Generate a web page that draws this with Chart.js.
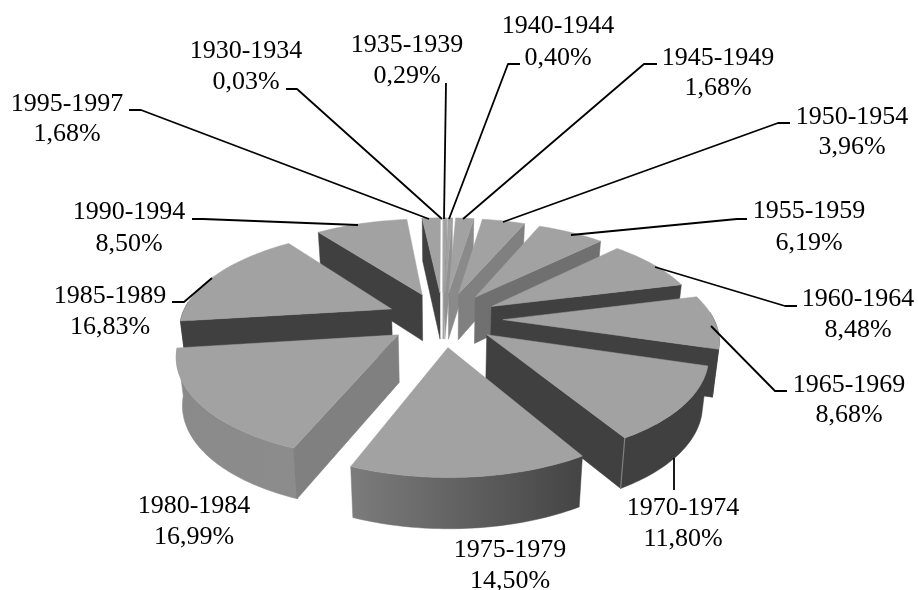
<!DOCTYPE html>
<html><head><meta charset="utf-8">
<style>html,body{margin:0;padding:0;background:#fff}canvas{display:block}</style>
<script src="https://cdn.jsdelivr.net/npm/chart.js@4"></script>
</head><body><canvas id="c" width="918" height="590"></canvas>
<script>
const periods = ['1930-1934','1935-1939','1940-1944','1945-1949','1950-1954','1955-1959','1960-1964','1965-1969','1970-1974','1975-1979','1980-1984','1985-1989','1990-1994','1995-1997'];
const shares = [0.03,0.29,0.40,1.68,3.96,6.19,8.48,8.68,11.80,14.50,16.99,16.83,8.50,1.68];
const shareLabels = ['0,03%','0,29%','0,40%','1,68%','3,96%','6,19%','8,48%','8,68%','11,80%','14,50%','16,99%','16,83%','8,50%','1,68%'];

// styling tables, one row per slice
const sliceGaps = [63,63,63,63,63,63,60,63,57,63,58,60,63,63];
const radialShade = ['#929292','#929292','#929292','#8a8a8a','#808080','#707070','#404040','#404040','#404040','#404040','#808080','#404040','#404040','#404040'];
const rimShade = [['#888','#888'],['#888','#888'],['#888','#888'],['#888','#888'],['#888','#888'],['#707070','#707070'],['#404040','#404040'],['#404040','#404040'],['#404040','#404040'],['#7c7c7c','#444444'],['#8a8a8a','#8c8c8c'],['#404040','#404040'],['#404040','#404040'],['#404040','#404040']];
// label layout: x centre, first and second text baseline
const labelLayout = [[246,58,89],[407,52,83],[558,33,65],[718,65,95],[852,124,154],[809,218,250],[858,306,337],[849,392,422],[683,515,546],[510,557,588],[194,513,544],[110,303,334],[129,219,251],[67,111,141]];
// leader polylines of the annotations
const leaders = [
  [[286,89],[297,89],[442,219]],
  [[446,83],[444,219]],
  [[520,64],[508,64],[449,219]],
  [[657,64],[644,64],[463,219]],
  [[790,123],[778,123],[503,222]],
  [[747,219],[737,219],[571,235]],
  [[797,306],[785,306],[655,267]],
  [[787,391],[775,391],[711,326]],
  [[674,490],[674,458]],
  null,
  null,
  [[172,302],[184,302],[212,278]],
  [[192,219],[203,219],[358,225]],
  [[129,110],[141,110],[429,219]]
];

const VIEW = {scaleX:0.95, scaleY:0.4335, dist:1289, wall:47, wallSlope:0.015, wallShrink:0.977};

function projector(cx, cy){
  return (X,Y,down)=>{
    const s = 1/(1 - Y/VIEW.dist);
    let x = VIEW.scaleX*X*s, y = VIEW.scaleY*Y*s;
    if(down){ y += VIEW.wall + Y*VIEW.wallSlope; x *= VIEW.wallShrink; }
    return [cx+x, cy+y];
  };
}
function sliceGeom(el){
  const E = el.options.offset, R = el.outerRadius;
  const mid = (el.startAngle+el.endAngle)/2;
  const ox = E*Math.cos(mid), oy = E*Math.sin(mid);
  const pt = a=>[ox+R*Math.cos(a), oy+R*Math.sin(a)];
  return {ox,oy,pt,mid,R,a0:el.startAngle,a1:el.endAngle};
}
function poly(ctx, pts, fill, edge){
  ctx.beginPath();
  pts.forEach((p,i)=> i?ctx.lineTo(p[0],p[1]):ctx.moveTo(p[0],p[1]));
  ctx.closePath();
  ctx.fillStyle = fill; ctx.fill();
  ctx.strokeStyle = edge||fill; ctx.lineWidth=0.5; ctx.stroke();
}
class Pie3DController extends Chart.PieController {
  draw(){
    const ctx = this.chart.ctx, els = this.getMeta().data;
    const order = els.map((el,i)=>{const g=sliceGeom(el);const c=g.pt(g.mid);return {i,el,g,k:g.oy+0.5*(c[1]-g.oy)};}).sort((a,b)=>a.k-b.k);
    for(const {i,el,g} of order){
      const P = projector(el.x, el.y);
      const arcPts=[], n=Math.max(3,Math.ceil((g.a1-g.a0)/0.02));
      for(let j=0;j<=n;j++) arcPts.push(g.a0+(g.a1-g.a0)*j/n);
      const top = arcPts.map(a=>{const q=g.pt(a);return P(q[0],q[1]);});
      const apex = P(g.ox,g.oy);
      const face=(a)=>{const q=g.pt(a);return [apex,P(q[0],q[1]),P(q[0],q[1],true),P(g.ox,g.oy,true)];};
      const startVisible = Math.cos(g.a0)<0, endVisible = Math.cos(g.a1)>0;
      if(startVisible) poly(ctx,face(g.a0),radialShade[i]);
      if(endVisible) poly(ctx,face(g.a1),radialShade[i]);
      const vis = arcPts.filter(a=>Math.sin(a)>-0.08);
      if(vis.length>1){
        const up = vis.map(a=>{const q=g.pt(a);return P(q[0],q[1]);});
        const dn = vis.map(a=>{const q=g.pt(a);return P(q[0],q[1],true);}).reverse();
        const xs = up.map(p=>p[0]);
        const gr = ctx.createLinearGradient(Math.min(...xs),0,Math.max(...xs),0);
        gr.addColorStop(0,rimShade[i][0]); gr.addColorStop(1,rimShade[i][1]);
        poly(ctx,up.concat(dn),gr,gr);
        // light seam on the corner where the rim meets a visible radial face
        const seam = a=>{
          if(Math.sin(a)<0.3) return;
          const q=g.pt(a),u=P(q[0],q[1]),d=P(q[0],q[1],true);
          ctx.beginPath();ctx.moveTo(u[0],u[1]);ctx.lineTo(d[0],d[1]);ctx.strokeStyle='#808080';ctx.lineWidth=1.2;ctx.stroke();
        };
        if(startVisible) seam(g.a0);
        if(endVisible) seam(g.a1);
      }
      poly(ctx,[apex].concat(top),el.options.backgroundColor);
    }
  }
}
Pie3DController.id='pie3d';
Pie3DController.defaults=Chart.PieController.defaults;
Pie3DController.overrides=Chart.PieController.overrides;
Chart.register(Pie3DController);

const labelPlugin = {
  id:'sliceLabels',
  afterDatasetsDraw(chart){
    const ctx=chart.ctx;
    ctx.save();
    ctx.font='26px "Liberation Serif"'; ctx.textAlign='center'; ctx.textBaseline='alphabetic'; ctx.fillStyle='#000';
    periods.forEach((name,i)=>{
      const [x,y1,y2]=labelLayout[i];
      ctx.fillText(name,x,y1);
      ctx.fillText(shareLabels[i],x,y2);
      const l=leaders[i];
      if(l){
        ctx.beginPath();
        l.forEach((p,j)=> j?ctx.lineTo(p[0],p[1]):ctx.moveTo(p[0],p[1]));
        ctx.strokeStyle='#000'; ctx.lineWidth=1.8; ctx.lineJoin='round'; ctx.stroke();
      }
    });
    ctx.restore();
  }
};
new Chart(document.getElementById('c'),{
  type:'pie3d',
  data:{labels:periods,datasets:[{data:shares,backgroundColor:'#a2a2a2',borderWidth:0,offset:sliceGaps}]},
  options:{responsive:false,animation:false,radius:222,rotation:0,
    layout:{padding:{top:48,right:32}},
    plugins:{legend:{display:false},tooltip:{enabled:false}}},
  plugins:[labelPlugin]
});
</script></body></html>
